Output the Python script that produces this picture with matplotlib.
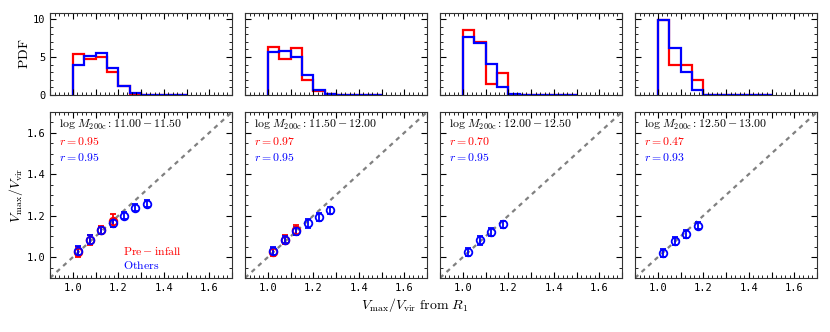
import matplotlib
matplotlib.use("Agg")
import matplotlib.pyplot as plt
from matplotlib.ticker import MultipleLocator, FuncFormatter
import numpy as np

plt.rcParams['mathtext.fontset'] = 'cm'
plt.rcParams['font.family'] = 'DejaVu Sans Mono'

# histogram bins (V_max/V_vir from R_1)
bin_edges = [1.00, 1.05, 1.10, 1.15, 1.20, 1.25, 1.30, 1.35, 1.40, 1.45, 1.50]

# PDF per mass bin, pre-infall (red) and others (blue)
pdf_pre = [
    [5.4, 4.8, 5.05, 3.0, 1.2, 0.15, 0.05, 0.05, 0.03, 0.03],
    [6.27, 4.8, 6.2, 1.97, 0.57, 0.1, 0.04, 0.03, 0.02, 0.02],
    [8.55, 7.0, 1.45, 2.9, 0.05, 0.02, 0.0, 0.0, 0.0, 0.0],
    [9.87, 3.95, 3.95, 1.97, 0.0, 0.0, 0.0, 0.0, 0.0, 0.0],
]
pdf_oth = [
    [3.95, 5.1, 5.55, 3.5, 1.2, 0.2, 0.06, 0.05, 0.04, 0.03],
    [5.7, 5.83, 4.95, 2.6, 0.65, 0.13, 0.05, 0.04, 0.03, 0.02],
    [7.67, 6.8, 4.08, 1.1, 0.13, 0.05, 0.04, 0.03, 0.02, 0.02],
    [9.87, 6.14, 3.07, 0.66, 0.03, 0.02, 0.01, 0.01, 0.01, 0.01],
]

# binned medians with errors
x_centers = [1.025, 1.075, 1.125, 1.175, 1.225, 1.275, 1.325]

pre_y = [
    [1.026, 1.083, 1.130, 1.176],
    [1.025, 1.085, 1.130],
    [],
    [],
]
pre_err = [
    [0.025, 0.022, 0.02, 0.032],
    [0.02, 0.02, 0.025],
    [],
    [],
]
oth_y = [
    [1.032, 1.085, 1.129, 1.166, 1.201, 1.239, 1.259],
    [1.029, 1.085, 1.126, 1.163, 1.195, 1.226],
    [1.024, 1.081, 1.121, 1.158],
    [1.019, 1.079, 1.113, 1.153],
]
oth_err = [
    [0.02, 0.02, 0.018, 0.02, 0.018, 0.018, 0.015],
    [0.02, 0.018, 0.02, 0.02, 0.02, 0.018],
    [0.02, 0.02, 0.02, 0.018],
    [0.02, 0.02, 0.018, 0.018],
]

mass_bins = ['11.00 - 11.50', '11.50 - 12.00', '12.00 - 12.50', '12.50 - 13.00']
r_pre = ['0.95', '0.97', '0.70', '0.47']
r_oth = ['0.95', '0.95', '0.95', '0.93']

fig = plt.figure(figsize=(8.3, 3.32), dpi=100)

lefts = [50, 245, 440, 635]
W, H = 830.0, 332.0


def style_axis(ax):
    ax.tick_params(which='both', direction='in', top=True, right=True,
                   labelsize=7.5)
    ax.tick_params(which='major', length=4, width=0.8)
    ax.tick_params(which='minor', length=2, width=0.6)
    for s in ax.spines.values():
        s.set_linewidth(0.8)
        s.set_color('#333333')


xfmt = FuncFormatter(lambda v, p: ('%.1f' % v) if abs(round(v * 10) % 2) < 0.5 else '')

for i in range(4):
    # top: PDF
    axt = fig.add_axes([lefts[i] / W, 1 - 95 / H, 182 / W, 82 / H])
    axt.stairs(pdf_pre[i], bin_edges, color='red', lw=1.6, baseline=0)
    axt.stairs(pdf_oth[i], bin_edges, color='blue', lw=1.6, baseline=0)
    axt.set_xlim(0.9, 1.7)
    axt.set_ylim(0, 10.8)
    axt.xaxis.set_major_locator(MultipleLocator(0.1))
    axt.xaxis.set_minor_locator(MultipleLocator(0.02))
    axt.yaxis.set_major_locator(MultipleLocator(5))
    axt.yaxis.set_minor_locator(MultipleLocator(1))
    axt.set_xticklabels([])
    style_axis(axt)
    if i == 0:
        axt.set_ylabel(r'$\mathrm{PDF}$', fontsize=10, labelpad=1)
    else:
        axt.set_yticklabels([])

    # bottom: scatter
    axb = fig.add_axes([lefts[i] / W, 1 - 278 / H, 182 / W, 166 / H])
    axb.plot([0.9, 1.7], [0.9, 1.7], ls='--', color='gray', lw=1.6,
             dashes=(2, 2))
    n = len(pre_y[i])
    if n:
        axb.errorbar(x_centers[:n], pre_y[i], yerr=pre_err[i], fmt='o',
                     mfc='none', mec='red', ecolor='red', color='red',
                     ms=5.5, mew=1.3, capsize=2.5, elinewidth=1.3)
    n = len(oth_y[i])
    axb.errorbar(x_centers[:n], oth_y[i], yerr=oth_err[i], fmt='o',
                 mfc='none', mec='blue', ecolor='blue', color='blue',
                 ms=5.5, mew=1.3, capsize=2.5, elinewidth=1.3)
    axb.set_xlim(0.9, 1.7)
    axb.set_ylim(0.9, 1.7)
    axb.xaxis.set_major_locator(MultipleLocator(0.1))
    axb.xaxis.set_minor_locator(MultipleLocator(0.02))
    axb.xaxis.set_major_formatter(xfmt)
    axb.yaxis.set_major_locator(MultipleLocator(0.2))
    axb.yaxis.set_minor_locator(MultipleLocator(0.05))
    style_axis(axb)
    lo, hi = mass_bins[i].split(' - ')
    axb.text(0.05, 0.92, r'$\log\,M_{\rm 200c}:%s-%s$' % (lo, hi),
             transform=axb.transAxes, fontsize=8.5, va='center', color='black')
    axb.text(0.05, 0.82, r'$r=%s$' % r_pre[i], transform=axb.transAxes,
             fontsize=8.5, va='center', color='red')
    axb.text(0.05, 0.725, r'$r=%s$' % r_oth[i], transform=axb.transAxes,
             fontsize=8.5, va='center', color='blue')
    if i == 0:
        axb.set_ylabel(r'$V_{\rm max}/V_{\rm vir}$', fontsize=10, labelpad=1)
        axb.text(1.222, 1.029, r'$\mathrm{Pre-infall}$', color='red',
                 fontsize=8.5, va='center')
        axb.text(1.222, 0.961, r'$\mathrm{Others}$', color='blue',
                 fontsize=8.5, va='center')
    else:
        axb.set_yticklabels([])

fig.text(0.5, 1 - 305 / H, r'$V_{\rm max}/V_{\rm vir}\ \mathrm{from}\ R_1$',
         ha='center', va='center', fontsize=10)

fig.savefig('out.png', dpi=100)
